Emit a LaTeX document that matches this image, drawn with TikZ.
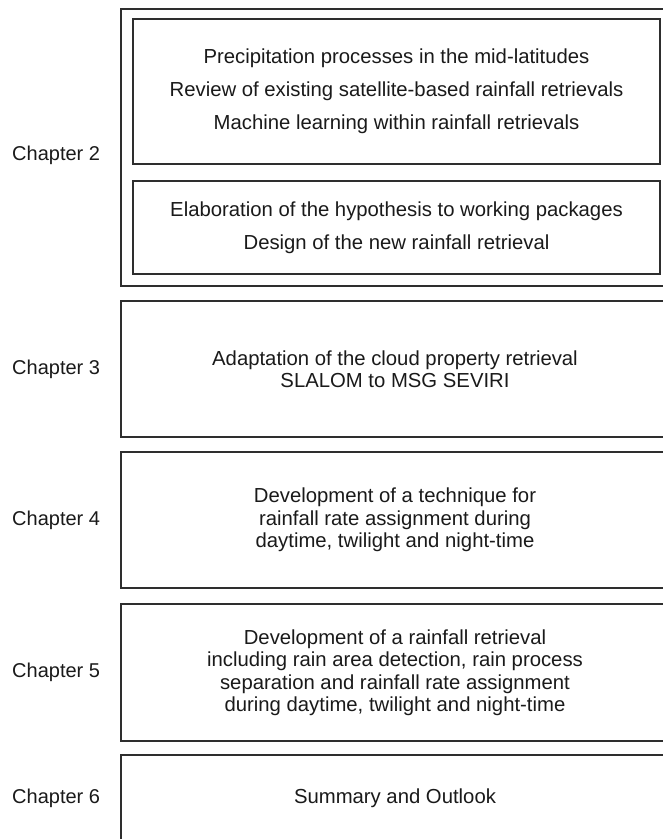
\documentclass[tikz,border=0pt]{standalone}
\usepackage{fontspec}
\setmainfont{Liberation Sans}
\usetikzlibrary{positioning}
\definecolor{Frame}{HTML}{2E2E2E}
\definecolor{Ink}{HTML}{1A1A1A}

\tikzset{
  chapbox/.style={draw=Frame,line width=1.8pt,minimum width=548pt,minimum height=136pt,
    inner sep=0pt,outer sep=0pt,align=center,text=Ink,anchor=north west,
    font=\fontsize{20.3}{22.5}\selectfont},
  topicbox/.style={draw=Frame,line width=1.3pt,minimum width=527pt,
    inner sep=0pt,outer sep=0pt,align=center,text=Ink,anchor=north west,
    font=\fontsize{20.3}{33}\selectfont},
  chaplabel/.style={anchor=west,inner sep=0pt,text=Ink,font=\fontsize{20}{22}\selectfont}
}

\begin{document}
\begin{tikzpicture}[x=1pt,y=-1pt]
        \clip (0,0) rectangle (663,839);
        \fill[white] (0,0) rectangle (663,839);
        % chapter frames
        \node[chapbox,minimum height=277pt] (ch2) at (121,9) {};
        \node[chapbox,below=15pt of ch2.south west,anchor=north west] (ch3)
          {Adaptation of the cloud property retrieval\\SLALOM to MSG SEVIRI};
        \node[chapbox,below=15pt of ch3.south west,anchor=north west] (ch4)
          {Development of a technique for\\rainfall rate assignment during\\daytime, twilight and night-time};
        \node[chapbox,minimum height=137pt,below=16pt of ch4.south west,anchor=north west] (ch5)
          {Development of a rainfall retrieval\\including rain area detection, rain process\\separation and rainfall rate assignment\\during daytime, twilight and night-time};
        \node[chapbox,minimum height=86pt,below=14pt of ch5.south west,anchor=north west] (ch6)
          {Summary and Outlook};
        % the two blocks inside chapter 2
        \node[topicbox,minimum height=145pt] (lit) at (133,19)
          {Precipitation processes in the mid-latitudes\\Review of existing satellite-based rainfall retrievals\\Machine learning within rainfall retrievals};
        \node[topicbox,minimum height=93pt,below=17pt of lit.south west,anchor=north west] (hyp)
          {Elaboration of the hypothesis to working packages\\Design of the new rainfall retrieval};
        % chapter labels on the left
        \node[chaplabel] (l2) at (12,155) {Chapter 2};
        \node[chaplabel] (l3) at (12,369) {Chapter 3};
        \node[chaplabel] (l4) at (12,520) {Chapter 4};
        \node[chaplabel] (l5) at (12,672) {Chapter 5};
        \node[chaplabel] (l6) at (12,798) {Chapter 6};
      \end{tikzpicture}
\end{document}
